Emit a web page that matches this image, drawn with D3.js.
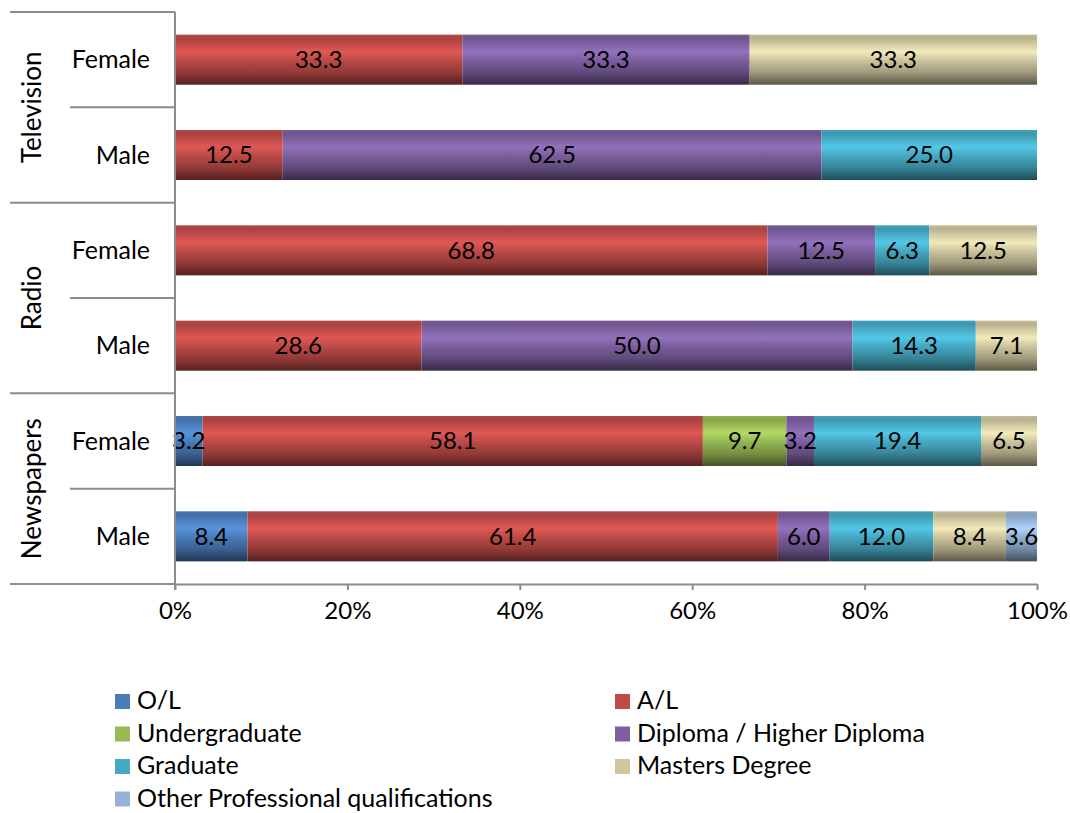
<!DOCTYPE html>
<html>
<head>
<meta charset="utf-8">
<script src="https://cdn.jsdelivr.net/npm/d3@7/dist/d3.min.js"></script>
<style>
  html, body { margin: 0; padding: 0; background: #fff; }
  svg { display: block; font-family: Lato, "Open Sans", sans-serif; }
</style>
</head>
<body>
<svg id="chart" width="1070" height="813"></svg>
<script>
// Education level by medium and gender (percent of respondents)
const media = ["Television", "Radio", "Newspapers"];
const genders = ["Female", "Male"];
const levels = ["O/L", "A/L", "Undergraduate", "Diploma / Higher Diploma", "Graduate", "Masters Degree", "Other Professional qualifications"];
const levelColors = ["#4A7EBB", "#BE4B48", "#98B954", "#7D60A0", "#46AAC5", "#CFC7A0", "#95B3D7"];

// One value per level, in the order of `levels`
const tvFemale    = [0, 33.3, 0, 33.3, 0, 33.3, 0];
const tvMale      = [0, 12.5, 0, 62.5, 25.0, 0, 0];
const radioFemale = [0, 68.8, 0, 12.5, 6.3, 12.5, 0];
const radioMale   = [0, 28.6, 0, 50.0, 14.3, 7.1, 0];
const newsFemale  = [3.2, 58.1, 9.7, 3.2, 19.4, 6.5, 0];
const newsMale    = [8.4, 61.4, 0, 6.0, 12.0, 8.4, 3.6];

const xTicks = [0, 0.2, 0.4, 0.6, 0.8, 1.0];

const rows = [
  { medium: "Television", gender: "Female", values: tvFemale },
  { medium: "Television", gender: "Male", values: tvMale },
  { medium: "Radio", gender: "Female", values: radioFemale },
  { medium: "Radio", gender: "Male", values: radioMale },
  { medium: "Newspapers", gender: "Female", values: newsFemale },
  { medium: "Newspapers", gender: "Male", values: newsMale }
];

const svg = d3.select("#chart");
const plot = { left: 175, right: 1037, top: 12, bottom: 584 };
const axisColor = "#8c8c8c";
const valueSize = 24;
const labelSize = 25;

const x = d3.scaleLinear().domain([0, 1]).range([plot.left, plot.right]);
const y = d3.scaleBand()
  .domain(rows.map((r, i) => i))
  .range([plot.top, plot.bottom])
  .paddingInner(0.475)
  .paddingOuter(0.2375);

// Bevelled bar fills
const defs = svg.append("defs");
levelColors.forEach((c, i) => {
  const base = d3.color(c);
  const g = defs.append("linearGradient")
    .attr("id", "grad" + i)
    .attr("x1", 0).attr("y1", 0).attr("x2", 0).attr("y2", 1);
  const stops = [
    [0, base.darker(0.15)],
    [0.07, base.darker(0.35)],
    [0.34, base.brighter(0.45)],
    [0.52, base.darker(0.05)],
    [0.75, base.darker(0.7)],
    [1, base.darker(2.3)]
  ];
  stops.forEach(([o, col]) => g.append("stop").attr("offset", o).attr("stop-color", col.formatHex()));
});

// Stacked segments normalised to 100%
rows.forEach((r, ri) => {
  const total = d3.sum(r.values);
  let acc = 0;
  const segs = [];
  r.values.forEach((v, li) => {
    if (v > 0) {
      segs.push({ li, v, x0: acc / total, x1: (acc + v) / total });
    }
    acc += v;
  });
  const gRow = svg.append("g");
  gRow.selectAll("rect").data(segs).join("rect")
    .attr("x", d => x(d.x0))
    .attr("y", y(ri))
    .attr("width", d => x(d.x1) - x(d.x0))
    .attr("height", y.bandwidth())
    .attr("fill", d => `url(#grad${d.li})`);
  gRow.selectAll("text").data(segs).join("text")
    .attr("x", d => (x(d.x0) + x(d.x1)) / 2)
    .attr("y", y(ri) + y.bandwidth() / 2)
    .attr("dy", "0.35em")
    .attr("text-anchor", "middle")
    .attr("font-size", valueSize)
    .attr("fill", "#000")
    .text(d => d.v.toFixed(1));
});

// X axis
const xAxis = d3.axisBottom(x).tickValues(xTicks).tickFormat(d3.format(".0%")).tickSize(6).tickSizeOuter(0);
const gx = svg.append("g").attr("transform", `translate(0,${plot.bottom})`).call(xAxis);
gx.select(".domain").attr("stroke", axisColor).attr("stroke-width", 2);
gx.selectAll(".tick line").attr("stroke", axisColor).attr("stroke-width", 2);
gx.selectAll(".tick text").attr("font-size", valueSize).attr("font-family", "Lato, sans-serif").attr("fill", "#000").attr("y", 35).attr("dy", "0");

// Multi-level category axis
const ga = svg.append("g");
ga.append("line")
  .attr("x1", plot.left).attr("x2", plot.left)
  .attr("y1", plot.top).attr("y2", plot.bottom + 6)
  .attr("stroke", axisColor).attr("stroke-width", 2);

const step = y.step();
const groupEdges = d3.range(media.length + 1).map(i => plot.top + i * step * genders.length);
groupEdges.forEach(yy => {
  ga.append("line").attr("x1", 10).attr("x2", plot.left).attr("y1", yy).attr("y2", yy)
    .attr("stroke", axisColor).attr("stroke-width", 2);
});
media.forEach((m, mi) => {
  const yy = plot.top + (mi * 2 + 1) * step;
  ga.append("line").attr("x1", 70).attr("x2", plot.left).attr("y1", yy).attr("y2", yy)
    .attr("stroke", axisColor).attr("stroke-width", 2);
  const cy = (groupEdges[mi] + groupEdges[mi + 1]) / 2;
  ga.append("text")
    .attr("transform", `translate(32,${cy}) rotate(-90)`)
    .attr("text-anchor", "middle")
    .attr("dy", "0.35em")
    .attr("font-size", 26)
    .text(m);
});
rows.forEach((r, ri) => {
  ga.append("text")
    .attr("x", 150)
    .attr("y", y(ri) + y.bandwidth() / 2)
    .attr("dy", "0.35em")
    .attr("text-anchor", "end")
    .attr("font-size", labelSize)
    .text(r.gender);
});

// Legend, two columns
const legend = svg.append("g");
levels.forEach((name, i) => {
  const col = i % 2, row = Math.floor(i / 2);
  const lx = 115 + col * 500, ly = 701 + row * 32.5;
  legend.append("rect").attr("x", lx).attr("y", ly - 7).attr("width", 15).attr("height", 15).attr("fill", levelColors[i]);
  legend.append("text").attr("x", lx + 22).attr("y", ly).attr("dy", "0.33em").attr("font-size", labelSize).text(name);
});
</script>
</body>
</html>
